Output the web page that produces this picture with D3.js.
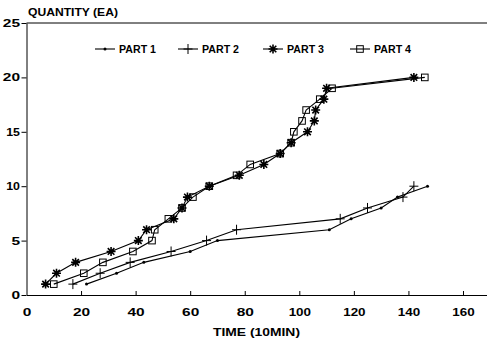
<!DOCTYPE html>
<html>
<head>
<script src="https://cdn.jsdelivr.net/npm/d3@7"></script>
<style>
  body { margin: 0; background: #fff; }
  svg { display: block; }
  text { font-family: "Liberation Sans", Arial, sans-serif; font-weight: bold; fill: #000; }
</style>
</head>
<body>
<script>
// values: [time, quantity]
var part1 = [[22,1],[33,2],[43,3],[60,4],[70,5],[111,6],[119,7],[130,8],[136,9],[147,10]];
var part2 = [[17,1],[27,2],[38,3],[53,4],[66,5],[77,6],[115,7],[125,8],[138,9],[142,10]];
var part3 = [[7,1],[11,2],[18,3],[31,4],[41,5],[44,6],[54,7],[57,8],[59,9],[67,10],[78,11],[87,12],
             [93,13],[97,14],[103,15],[105.5,16],[106,17],[109,18],[110,19],[142,20]];
var part4 = [[10,1],[21,2],[28,3],[39,4],[46,5],[47,6],[52,7],[57,8],[61,9],[67,10],[77,11],[82,12],
             [93,13],[97,14],[98,15],[101,16],[102.5,17],[107.5,18],[112,19],[146,20]];
var seriesNames = ["PART 1", "PART 2", "PART 3", "PART 4"];
var xTicks = [0, 20, 40, 60, 80, 100, 120, 140, 160];
var yTicks = [0, 5, 10, 15, 20, 25];

var width = 487, height = 342;
var svg = d3.select("body").append("svg")
    .attr("width", width).attr("height", height);

var x = d3.scaleLinear().domain([0, 168.8]).range([26.5, 487]);
var y = d3.scaleLinear().domain([0, 25]).range([295, 23]);

// stretch text a bit, the original lettering is wide
function widen(sel, perChar) {
  sel.attr("textLength", function() {
    var s = d3.select(this).text(), w = 0;
    for (var i = 0; i < s.length; i++) w += (s[i] == "1" ? perChar * 0.6 : (s[i] == " " ? perChar * 0.45 : perChar));
    return w;
  }).attr("lengthAdjust", "spacingAndGlyphs");
}

// axes
var gx = svg.append("g").attr("transform", "translate(0," + y(0) + ")")
    .call(d3.axisBottom(x).tickValues(xTicks).tickSize(-4).tickSizeOuter(0).tickPadding(13));
var gy = svg.append("g").attr("transform", "translate(" + x(0) + ",0)")
    .call(d3.axisLeft(y).tickValues(yTicks).tickSize(5).tickSizeOuter(0).tickPadding(1.5));
[gx, gy].forEach(function(g) {
  g.selectAll("path, line").attr("stroke", "#000").attr("stroke-width", 1);
  g.selectAll("text").style("font-size", "11px")
    .style("font-family", "'Liberation Sans', Arial, sans-serif").style("font-weight", "bold");
  widen(g.selectAll("text"), 8.6);
});
gx.select(".tick line").remove();

// top border
svg.append("line")
    .attr("x1", x(0)).attr("x2", width).attr("y1", y(25)).attr("y2", y(25))
    .attr("stroke", "#000").attr("stroke-width", 1);

// axis titles
svg.append("text").attr("x", 28).attr("y", 16).style("font-size", "11px")
    .text("QUANTITY (EA)").attr("textLength", 90).attr("lengthAdjust", "spacingAndGlyphs");
svg.append("text").attr("x", 213).attr("y", 336).style("font-size", "11px")
    .text("TIME (10MIN)").attr("textLength", 87).attr("lengthAdjust", "spacingAndGlyphs");

// markers
function drawMarker(g, kind) {
  if (kind == 0) {
    g.append("circle").attr("r", 1.5).attr("fill", "#000");
  } else if (kind == 1) {
    g.append("path").attr("d", "M-4.5,0H4.5M0,-5V5").attr("stroke", "#000").attr("stroke-width", 1);
  } else if (kind == 2) {
    g.append("path").attr("d", "M-4.5,0H4.5M0,-4.5V4.5M-3.3,-3.3L3.3,3.3M-3.3,3.3L3.3,-3.3")
      .attr("stroke", "#000").attr("stroke-width", 1.6);
  } else {
    g.append("rect").attr("x", -3.3).attr("y", -3.3).attr("width", 6.6).attr("height", 6.6)
      .attr("fill", "none").attr("stroke", "#000").attr("stroke-width", 1);
  }
}

var line = d3.line().x(function(d) { return x(d[0]); }).y(function(d) { return y(d[1]); });
var allSeries = [part1, part2, part3, part4];

allSeries.forEach(function(data, k) {
  svg.append("path").attr("d", line(data))
    .attr("fill", "none").attr("stroke", "#000").attr("stroke-width", 1.1);
  svg.selectAll(".m" + k).data(data).enter().append("g")
    .attr("class", "m" + k)
    .attr("transform", function(d) { return "translate(" + x(d[0]) + "," + y(d[1]) + ")"; })
    .each(function() { drawMarker(d3.select(this), k); });
});

// legend
var legendX = [95, 178, 263, 350];
var legY = 49;
seriesNames.forEach(function(name, k) {
  var lg = svg.append("g").attr("transform", "translate(" + legendX[k] + "," + legY + ")");
  lg.append("line").attr("x1", 0).attr("x2", 20).attr("stroke", "#000").attr("stroke-width", 1.1);
  drawMarker(lg.append("g").attr("transform", "translate(10,0)"), k);
  lg.append("text").attr("x", 24).attr("y", 3.8).style("font-size", "10px")
    .text(name).attr("textLength", 37).attr("lengthAdjust", "spacingAndGlyphs");
});
</script>
</body>
</html>
